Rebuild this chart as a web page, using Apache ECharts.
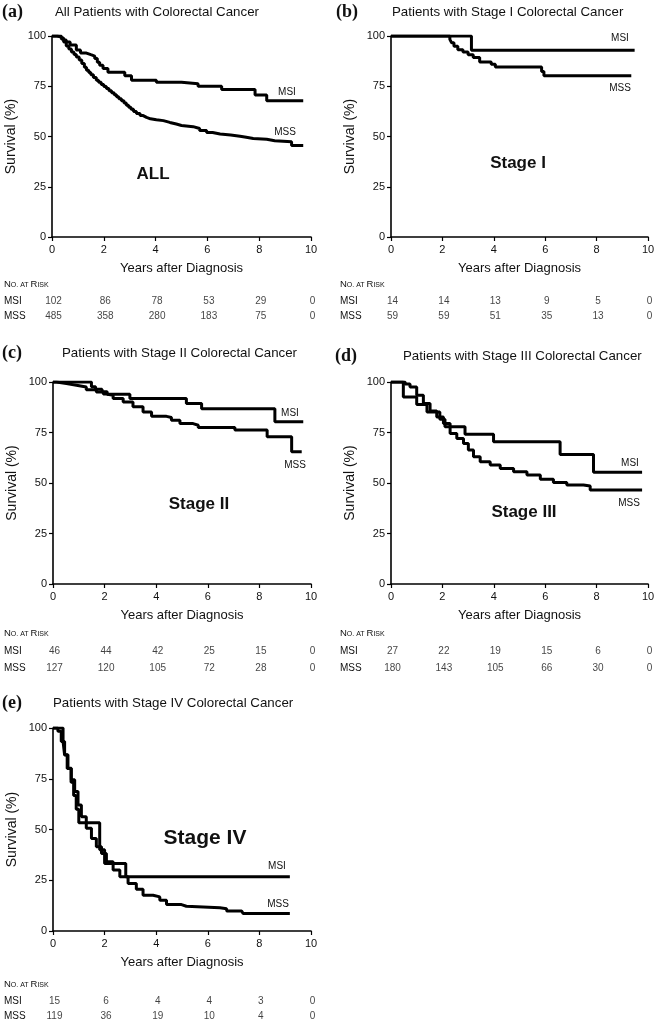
<!DOCTYPE html>
<html><head><meta charset="utf-8">
<script src="https://cdn.jsdelivr.net/npm/echarts@6/dist/echarts.min.js"></script>
<style>html,body{margin:0;padding:0;background:#fff}#c{width:659px;height:1024px}</style>
</head><body><div id="c"></div><script>
// ---------- data ----------
const yearTicks = [0, 2, 4, 6, 8, 10];
const riskRows = ['MSI', 'MSS'];

// (a) All patients
const aMsi = [[0,100],[0.36,99],[0.45,98],[0.55,97],[0.7,95.5],[0.94,93],[1.1,91.5],[1.33,90.7],[1.5,90],[1.65,88.8],[1.75,87],[1.84,85.5],[1.97,83.8],[2.16,82],[2.81,80.2],[3.07,78],[4.03,77],[5.0,76.2],[5.64,75],[6.55,73.4],[7.84,70.6],[8.29,67.8],[9.7,67.8]];
const aMss = [[0,100],[0.2,99.5],[0.36,98.5],[0.45,97],[0.55,95],[0.65,93.5],[0.75,92],[0.85,90.8],[0.94,89.6],[1.05,88],[1.15,86.3],[1.25,84.5],[1.33,83],[1.42,81.8],[1.5,80.7],[1.6,79.3],[1.71,78],[1.8,77],[1.9,75.9],[2.0,74.9],[2.1,73.9],[2.2,72.8],[2.3,71.8],[2.4,70.8],[2.49,69.8],[2.58,68.8],[2.68,67.8],[2.78,66.7],[2.87,65.6],[2.96,64.5],[3.05,63.5],[3.15,62.5],[3.26,61.5],[3.4,60.4],[3.52,59.5],[3.65,58.8],[3.8,58.3],[4.03,57.9],[4.3,57],[4.55,56.2],[4.8,55.5],[5.0,54.9],[5.45,54],[5.7,53],[5.97,52],[6.2,51.2],[6.49,50.7],[6.9,50.1],[7.26,49.6],[7.5,49],[7.77,48.6],[8.29,47.9],[8.6,47.4],[9.25,45.5],[9.7,45.5]];
const aRiskMsi = [102, 86, 78, 53, 29, 0];
const aRiskMss = [485, 358, 280, 183, 75, 0];

// (b) Stage I
const bMsi = [[0,100],[3.13,92.9],[9.48,92.9]];
const bMss = [[0,100],[2.29,98.3],[2.36,96.6],[2.45,94.9],[2.6,93.2],[2.8,92],[3.0,90.7],[3.2,89.3],[3.45,87.1],[3.9,86],[4.06,84.6],[5.86,82.3],[5.95,80.2],[9.35,80.2]];
const bRiskMsi = [14, 14, 13, 9, 5, 0];
const bRiskMss = [59, 59, 51, 35, 13, 0];

// (c) Stage II
const cMsi = [[0,100],[1.49,97.7],[1.65,96.4],[1.9,95.2],[2.1,93.9],[2.98,91.8],[5.17,89.3],[5.76,86.8],[8.6,80.3],[9.7,80.3]];
const cMss = [[0,100],[0.13,99.2],[0.52,98.4],[0.91,97.5],[1.29,96.2],[1.68,95.1],[1.95,94],[2.07,93.4],[2.33,91.8],[2.72,90.1],[3.1,87.7],[3.49,85.2],[3.82,83],[4.4,82.4],[4.59,81.1],[4.92,79.4],[5.43,78.6],[5.63,77.5],[7.05,76.2],[8.3,72.9],[9.25,65.5],[9.64,65.5]];
const cRiskMsi = [46, 44, 42, 25, 15, 0];
const cRiskMss = [127, 120, 105, 72, 28, 0];

// (d) Stage III
const dMsi = [[0,100],[0.48,92.6],[1.0,88.9],[1.4,85.2],[1.9,81.5],[2.1,77.8],[2.88,74.1],[3.99,70.4],[6.58,64.1],[7.88,55.3],[9.77,55.3]];
const dMss = [[0,100],[0.55,99],[0.74,97.5],[1.0,93.4],[1.26,89.3],[1.52,85.7],[1.78,82.7],[2.04,79.4],[2.3,74.5],[2.56,72],[2.82,69.6],[3.01,66.3],[3.21,63],[3.47,60.5],[3.86,58.9],[4.25,57.2],[4.77,55.6],[5.29,53.9],[5.81,51.8],[6.32,50.2],[6.84,49],[7.49,48.5],[7.75,46.5],[9.77,46.5]];
const dRiskMsi = [27, 22, 19, 15, 6, 0];
const dRiskMss = [180, 143, 105, 66, 30, 0];

// (e) Stage IV
const eMsi = [[0,100],[0.39,93.3],[0.45,86.7],[0.55,80],[0.7,73.3],[0.8,66.7],[0.9,60],[1.0,53.3],[1.81,40],[2.0,33.3],[2.82,26.7],[9.18,26.7]];
const eMss = [[0,100],[0.19,98.4],[0.32,93.4],[0.45,86.8],[0.58,80.2],[0.71,74.5],[0.84,68.7],[0.97,62.1],[1.1,56.3],[1.29,50.6],[1.49,45.6],[1.68,41.5],[1.88,38.2],[2.07,34.1],[2.33,30],[2.59,26.7],[2.91,23.4],[3.23,20.6],[3.49,17.6],[3.88,16.8],[4.14,15.2],[4.4,13],[4.98,12.2],[5.17,11.4],[6.47,11],[6.73,9.9],[7.31,9.4],[7.37,8.6],[9.18,8.6]];
const eRiskMsi = [15, 6, 4, 4, 3, 0];
const eRiskMss = [119, 36, 19, 10, 4, 0];

const panelLetters = ['(a)', '(b)', '(c)', '(d)', '(e)'];
const panelTitles = ['All Patients with Colorectal Cancer', 'Patients with Stage I Colorectal Cancer', 'Patients with Stage II Colorectal Cancer', 'Patients with Stage III Colorectal Cancer', 'Patients with Stage IV Colorectal Cancer'];
const stageTags = ['ALL', 'Stage I', 'Stage II', 'Stage III', 'Stage IV'];

// ---------- layout ----------
const FONT = '"Liberation Sans", Arial, Helvetica, sans-serif';
const SERIF = '"Liberation Serif", "Times New Roman", serif';
const layout = [
  { grid: {left: 52, top: 36, width: 259, height: 201}, risk: {top: 293.5, height: 30}, letter: [2, 12], title: [55, 12], noRisk: [4, 284], msi: [287, 92], mss: [285, 132], tag: [153, 174, 17] },
  { grid: {left: 391, top: 36, width: 257, height: 201}, risk: {top: 293.5, height: 30}, letter: [336, 12], title: [392, 12], noRisk: [340, 284], msi: [620, 38], mss: [620, 88], tag: [518, 163, 17] },
  { grid: {left: 53, top: 382, width: 258, height: 202}, risk: {top: 642.5, height: 34}, letter: [2, 353], title: [62, 353], noRisk: [4, 633], msi: [290, 413], mss: [295, 465], tag: [199, 504, 17] },
  { grid: {left: 391, top: 382, width: 257, height: 202}, risk: {top: 642.5, height: 34}, letter: [335, 356], title: [403, 356], noRisk: [340, 633], msi: [630, 463], mss: [629, 503], tag: [524, 512, 17] },
  { grid: {left: 53, top: 728, width: 258, height: 203}, risk: {top: 993.5, height: 30}, letter: [2, 703], title: [53, 703], noRisk: [4, 984], msi: [277, 866], mss: [278, 904], tag: [205, 838, 21] }
];
const curves = [[aMsi, aMss], [bMsi, bMss], [cMsi, cMss], [dMsi, dMss], [eMsi, eMss]];
const risks = [[aRiskMsi, aRiskMss], [bRiskMsi, bRiskMss], [cRiskMsi, cRiskMss], [dRiskMsi, dRiskMss], [eRiskMsi, eRiskMss]];

const grids = [], xAxes = [], yAxes = [], series = [], graphics = [];
const n = layout.length;
layout.forEach((L, i) => {
  grids.push(Object.assign({}, L.grid));
  xAxes.push({
    gridIndex: i, type: 'value', min: 0, max: 10, interval: 2,
    name: 'Years after Diagnosis', nameLocation: 'middle', nameGap: 25,
    nameTextStyle: {fontSize: 13, color: '#111', fontFamily: FONT},
    axisLine: {onZero: false, lineStyle: {color: '#000', width: 1.6}},
    axisTick: {length: 4, lineStyle: {color: '#000', width: 1.2}},
    axisLabel: {fontSize: 11, color: '#111', margin: 7, fontFamily: FONT},
    splitLine: {show: false}
  });
  yAxes.push({
    gridIndex: i, type: 'value', min: 0, max: 100, interval: 25,
    name: 'Survival (%)', nameLocation: 'middle', nameGap: 34,
    nameTextStyle: {fontSize: 14, color: '#111', fontFamily: FONT},
    axisLine: {show: true, lineStyle: {color: '#000', width: 1.6}},
    axisTick: {show: true, length: 4, lineStyle: {color: '#000', width: 1.2}},
    axisLabel: {fontSize: 11, color: '#111', margin: 6, fontFamily: FONT},
    splitLine: {show: false}
  });
  curves[i].forEach((data, k) => {
    series.push({
      type: 'line', xAxisIndex: i, yAxisIndex: i, step: 'end', data: data,
      showSymbol: false, symbol: 'none', silent: true, animation: false,
      lineStyle: {color: '#000', width: 3}, z: 3 - k
    });
  });
});
layout.forEach((L, i) => {
  const gi = n + i;
  grids.push({left: L.grid.left, width: L.grid.width, top: L.risk.top, height: L.risk.height});
  xAxes.push({gridIndex: gi, type: 'value', min: 0, max: 10, show: false});
  yAxes.push({
    gridIndex: gi, type: 'category', data: riskRows, inverse: true,
    axisLine: {show: false}, axisTick: {show: false}, splitLine: {show: false},
    axisLabel: {align: 'left', margin: L.grid.left - L.noRisk[0], fontSize: 10, color: '#111', fontFamily: FONT}
  });
  riskRows.forEach((row, k) => {
    series.push({
      type: 'scatter', xAxisIndex: gi, yAxisIndex: gi, symbolSize: 1, silent: true, animation: false,
      itemStyle: {color: 'rgba(0,0,0,0)'},
      data: yearTicks.map((t, j) => [t, row, risks[i][k][j]]),
      label: {show: true, position: 'inside', offset: [1.5, 0], formatter: p => String(p.value[2]), fontSize: 10, color: '#111', fontFamily: FONT}
    });
  });
  const txt = (x, y, text, font, align) => ({
    type: 'text', silent: true,
    style: {x: x, y: y, text: text, font: font, fill: '#111', align: align || 'left', verticalAlign: 'middle', textAlign: align || 'left', textVerticalAlign: 'middle'}
  });
  graphics.push(txt(L.letter[0], L.letter[1], panelLetters[i], 'bold 18px ' + SERIF));
  graphics.push(txt(L.title[0], L.title[1], panelTitles[i], '13.3px ' + FONT));
  graphics.push(txt(L.msi[0], L.msi[1], 'MSI', '10px ' + FONT, 'center'));
  graphics.push(txt(L.mss[0], L.mss[1], 'MSS', '10px ' + FONT, 'center'));
  graphics.push(txt(L.tag[0], L.tag[1], stageTags[i], 'bold ' + L.tag[2] + 'px ' + FONT, 'center'));
  graphics.push({
    type: 'text', silent: true,
    style: {
      x: L.noRisk[0], y: L.noRisk[1], text: '{a|N}{b|O. AT }{a|R}{b|ISK}',
      verticalAlign: 'middle', textVerticalAlign: 'middle',
      rich: {
        a: {fontSize: 9.5, fontFamily: FONT, fill: '#111', color: '#111', verticalAlign: 'bottom', lineHeight: 11},
        b: {fontSize: 7, fontFamily: FONT, fill: '#111', color: '#111', verticalAlign: 'bottom', lineHeight: 11, padding: [0, 0, 1, 0]}
      }
    }
  });
});

const chart = echarts.init(document.getElementById('c'), null, {renderer: 'canvas'});
chart.setOption({
  backgroundColor: '#fff', animation: false,
  grid: grids, xAxis: xAxes, yAxis: yAxes, series: series, graphic: graphics
});
</script></body></html>
